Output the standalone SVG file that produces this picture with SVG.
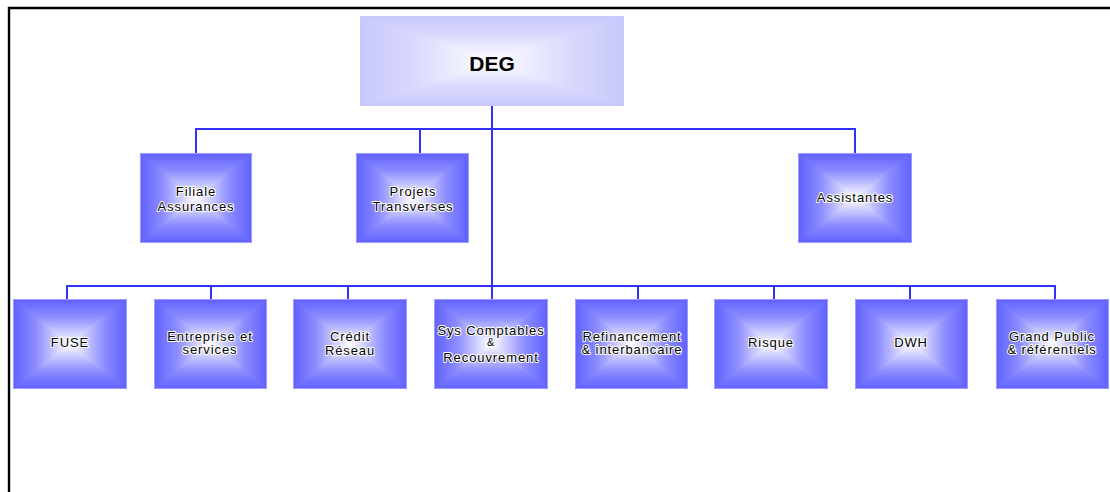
<svg xmlns="http://www.w3.org/2000/svg" xmlns:xlink="http://www.w3.org/1999/xlink" width="1110" height="492" viewBox="0 0 1110 492">
  <style>
    .frame { fill: none; stroke: #000; stroke-width: 2.4; }
    .wire { fill: none; stroke: #3232ff; stroke-width: 2; }
    .edge { fill: none; stroke: #9c9cff; stroke-width: 1; }
    .lbl { font-family: "Liberation Sans", Arial, sans-serif; font-size: 13px; letter-spacing: 0.9px; fill: #000; text-anchor: middle; stroke: #fff; stroke-width: 2; stroke-linejoin: round; paint-order: stroke; }
    .amp { font-size: 11px; }
    .title { font-family: "Liberation Sans", Arial, sans-serif; font-size: 21px; font-weight: bold; fill: #000; text-anchor: middle; }
  </style>
  <defs>
    <!-- blue box: rectangular gradient from edges to a white centre -->
    <linearGradient id="bT" x1="0" y1="0" x2="0" y2="1"><stop offset="0" stop-color="#6060ff"/><stop offset="0.4" stop-color="#8c8cff"/><stop offset="1" stop-color="#ffffff"/></linearGradient>
    <linearGradient id="bB" x1="0" y1="1" x2="0" y2="0"><stop offset="0" stop-color="#6060ff"/><stop offset="0.4" stop-color="#8c8cff"/><stop offset="1" stop-color="#ffffff"/></linearGradient>
    <linearGradient id="bL" x1="0" y1="0" x2="1" y2="0"><stop offset="0" stop-color="#6060ff"/><stop offset="0.4" stop-color="#8c8cff"/><stop offset="1" stop-color="#ffffff"/></linearGradient>
    <linearGradient id="bR" x1="1" y1="0" x2="0" y2="0"><stop offset="0" stop-color="#6060ff"/><stop offset="0.4" stop-color="#8c8cff"/><stop offset="1" stop-color="#ffffff"/></linearGradient>
    <!-- pale box for the head node -->
    <linearGradient id="pT" x1="0" y1="0" x2="0" y2="1"><stop offset="0" stop-color="#c8c8fc"/><stop offset="0.4" stop-color="#d8d8fd"/><stop offset="1" stop-color="#ffffff"/></linearGradient>
    <linearGradient id="pB" x1="0" y1="1" x2="0" y2="0"><stop offset="0" stop-color="#c8c8fc"/><stop offset="0.4" stop-color="#d8d8fd"/><stop offset="1" stop-color="#ffffff"/></linearGradient>
    <linearGradient id="pL" x1="0" y1="0" x2="1" y2="0"><stop offset="0" stop-color="#c8c8fc"/><stop offset="0.4" stop-color="#d8d8fd"/><stop offset="1" stop-color="#ffffff"/></linearGradient>
    <linearGradient id="pR" x1="1" y1="0" x2="0" y2="0"><stop offset="0" stop-color="#c8c8fc"/><stop offset="0.4" stop-color="#d8d8fd"/><stop offset="1" stop-color="#ffffff"/></linearGradient>
    <!-- each quarter is stroked with its own gradient so the diagonals join without seams -->
    <symbol id="blueBox" viewBox="0 0 100 100" preserveAspectRatio="none">
      <polygon points="0,0 100,0 50,50" fill="url(#bT)" stroke="url(#bT)" stroke-width="1"/>
      <polygon points="0,100 100,100 50,50" fill="url(#bB)" stroke="url(#bB)" stroke-width="1"/>
      <polygon points="0,0 0,100 50,50" fill="url(#bL)" stroke="url(#bL)" stroke-width="1"/>
      <polygon points="100,0 100,100 50,50" fill="url(#bR)" stroke="url(#bR)" stroke-width="1"/>
    </symbol>
    <symbol id="paleBox" viewBox="0 0 100 100" preserveAspectRatio="none">
      <polygon points="0,0 100,0 50,50" fill="url(#pT)" stroke="url(#pT)" stroke-width="1"/>
      <polygon points="0,100 100,100 50,50" fill="url(#pB)" stroke="url(#pB)" stroke-width="1"/>
      <polygon points="0,0 0,100 50,50" fill="url(#pL)" stroke="url(#pL)" stroke-width="1"/>
      <polygon points="100,0 100,100 50,50" fill="url(#pR)" stroke="url(#pR)" stroke-width="1"/>
    </symbol>
  </defs>

  <rect width="1110" height="492" fill="#fff"/>
  <path class="frame" d="M9,492 V8 H1110"/>

  <g id="connectors">
    <path class="wire" d="M492,105 V300"/>
    <path class="wire" d="M196,153 V129 H855 V153 M420,129 V153"/>
    <path class="wire" d="M67,300 V286 H1055 V300 M211,286 V300 M348,286 V300 M638,286 V300 M774,286 V300 M910,286 V300"/>
  </g>

  <g id="node-deg">
    <svg x="360" y="16" width="264" height="90" viewBox="0 0 100 100" preserveAspectRatio="none" overflow="hidden"><use xlink:href="#paleBox" width="100" height="100"/></svg>
    <text class="title" x="492" y="71">DEG</text>
  </g>

  <g id="node-filiale">
    <use xlink:href="#blueBox" x="140" y="153" width="112" height="90"/>
    <rect class="edge" x="140.5" y="153.5" width="111" height="89"/>
    <text class="lbl" x="196" y="196">Filiale</text>
    <text class="lbl" x="196" y="211">Assurances</text>
  </g>

  <g id="node-projets">
    <use xlink:href="#blueBox" x="356" y="153" width="113" height="90"/>
    <rect class="edge" x="356.5" y="153.5" width="112" height="89"/>
    <text class="lbl" x="413" y="196">Projets</text>
    <text class="lbl" x="413" y="211">Transverses</text>
  </g>

  <g id="node-assistantes">
    <use xlink:href="#blueBox" x="798" y="153" width="114" height="90"/>
    <rect class="edge" x="798.5" y="153.5" width="113" height="89"/>
    <text class="lbl" x="855" y="202">Assistantes</text>
  </g>

  <g id="node-fuse">
    <use xlink:href="#blueBox" x="13" y="299" width="114" height="90"/>
    <rect class="edge" x="13.5" y="299.5" width="113" height="89"/>
    <text class="lbl" x="70" y="347">FUSE</text>
  </g>

  <g id="node-entreprise">
    <use xlink:href="#blueBox" x="154" y="299" width="113" height="90"/>
    <rect class="edge" x="154.5" y="299.5" width="112" height="89"/>
    <text class="lbl" x="210" y="341">Entreprise et</text>
    <text class="lbl" x="210" y="354">services</text>
  </g>

  <g id="node-credit">
    <use xlink:href="#blueBox" x="293" y="299" width="114" height="90"/>
    <rect class="edge" x="293.5" y="299.5" width="113" height="89"/>
    <text class="lbl" x="350" y="341">Crédit</text>
    <text class="lbl" x="350" y="355">Réseau</text>
  </g>

  <g id="node-sys">
    <use xlink:href="#blueBox" x="434" y="299" width="114" height="90"/>
    <rect class="edge" x="434.5" y="299.5" width="113" height="89"/>
    <text class="lbl" x="491" y="335">Sys Comptables</text>
    <text class="lbl amp" x="491" y="346">&amp;</text>
    <text class="lbl" x="491" y="362">Recouvrement</text>
  </g>

  <g id="node-refinancement">
    <use xlink:href="#blueBox" x="575" y="299" width="113" height="90"/>
    <rect class="edge" x="575.5" y="299.5" width="112" height="89"/>
    <text class="lbl" x="632" y="341">Refinancement</text>
    <text class="lbl" x="632" y="354">&amp; interbancaire</text>
  </g>

  <g id="node-risque">
    <use xlink:href="#blueBox" x="714" y="299" width="114" height="90"/>
    <rect class="edge" x="714.5" y="299.5" width="113" height="89"/>
    <text class="lbl" x="771" y="347">Risque</text>
  </g>

  <g id="node-dwh">
    <use xlink:href="#blueBox" x="855" y="299" width="113" height="90"/>
    <rect class="edge" x="855.5" y="299.5" width="112" height="89"/>
    <text class="lbl" x="911" y="347">DWH</text>
  </g>

  <g id="node-grandpublic">
    <use xlink:href="#blueBox" x="996" y="299" width="113" height="90"/>
    <rect class="edge" x="996.5" y="299.5" width="112" height="89"/>
    <text class="lbl" x="1052" y="341">Grand Public</text>
    <text class="lbl" x="1052" y="354">&amp; référentiels</text>
  </g>
</svg>
